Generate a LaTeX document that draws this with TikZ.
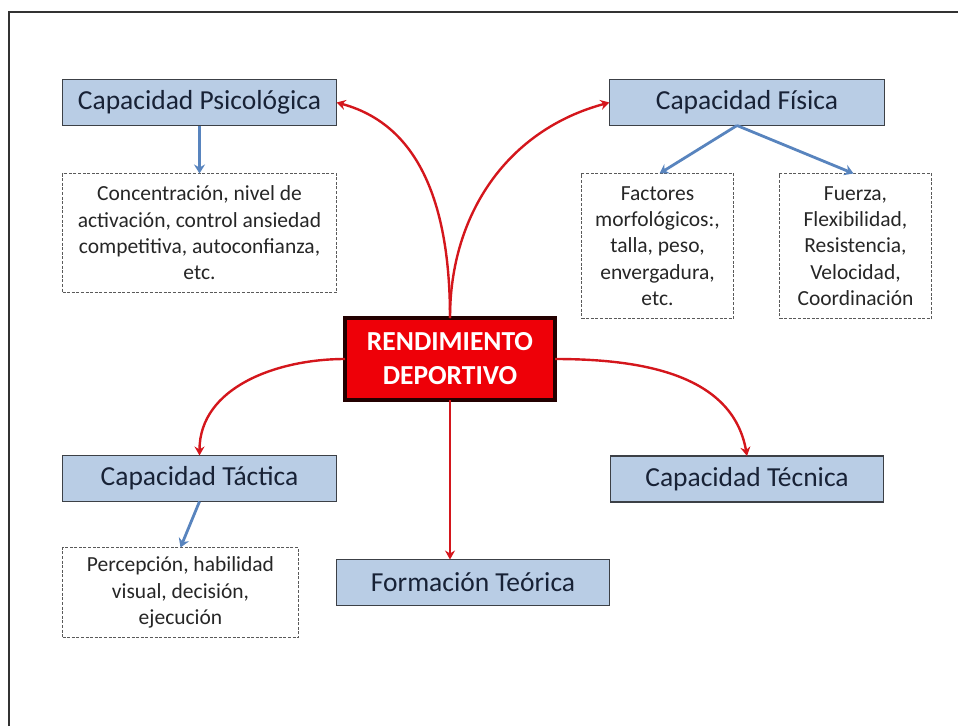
\documentclass[tikz,border=0pt]{standalone}
\usepackage{fontspec}
\setmainfont{Carlito}
\usetikzlibrary{arrows.meta}
\definecolor{boxfill}{RGB}{185,205,229}
\definecolor{boxline}{RGB}{60,64,70}
\definecolor{captext}{RGB}{24,34,54}
\definecolor{redline}{RGB}{212,22,28}
\definecolor{redfill}{RGB}{238,0,8}
\definecolor{redborder}{RGB}{35,0,0}
\definecolor{blueline}{RGB}{88,132,190}
\definecolor{dashline}{RGB}{90,90,90}
\definecolor{frameline}{RGB}{50,50,50}
\begin{document}
\begin{tikzpicture}[x=1pt,y=-1pt,
  capbox/.style={draw=boxline, fill=boxfill, line width=1.4pt, inner sep=0pt, outer sep=0pt,
    text=captext, font=\fontsize{27.5}{33}\selectfont, minimum height=46pt},
  detbox/.style={draw=dashline, dashed, dash pattern=on 3pt off 1.6pt, line width=1.2pt, inner sep=0pt, outer sep=0pt,
    align=center, text=black!85, font=\fontsize{21.5}{26.3}\selectfont},
  mainbox/.style={draw=redborder, fill=redfill, line width=4pt, inner sep=0pt, outer sep=0pt,
    align=center, text=white, font=\fontsize{27.5}{34}\selectfont\bfseries,
    minimum width=210pt, minimum height=82pt},
  redarrow/.style={draw=redline, line width=2.4pt, -{Stealth[length=9pt,width=10pt,inset=3pt]}},
  bluearrow/.style={draw=blueline, line width=2.8pt, -{Stealth[length=9pt,width=11pt,inset=3pt]}}
]
\useasboundingbox (0,0) rectangle (958,726);
\draw[frameline, line width=1.5pt] (9,726) -- (9,12) -- (958,12);

\node[capbox, minimum width=274pt] (psico) at (199.5,102.5) {Capacidad Psicológica};
\node[capbox, minimum width=275pt] (fisica) at (747,102.5) {Capacidad Física};
\node[capbox, minimum width=274pt] (tactica) at (199.5,478.5) {Capacidad Táctica};
\node[capbox, minimum width=273pt] (tecnica) at (747,479) {Capacidad Técnica};
\node[capbox, minimum width=273pt] (formacion) at (473,582.5) {Formación Teórica};

\node[mainbox] (rend) at (450,359) {RENDIMIENTO\\DEPORTIVO};

\node[detbox, minimum width=274pt, minimum height=119pt] (concent) at (199.5,233)
  {Concentración, nivel de\\activación, control ansiedad\\competitiva, autoconfianza,\\etc.};
\node[detbox, minimum width=152pt, minimum height=145pt] (factores) at (657.5,246)
  {Factores\\morfológicos:,\\talla, peso,\\envergadura,\\etc.};
\node[detbox, minimum width=152pt, minimum height=145pt] (fuerza) at (855.5,246)
  {Fuerza,\\Flexibilidad,\\Resistencia,\\Velocidad,\\Coordinación};
\node[detbox, minimum width=236pt, minimum height=90pt] (percep) at (180.5,592.5)
  {Percepción, habilidad\\visual, decisión,\\ejecución};

\draw[redarrow] (rend.north) to[out=90, in=-15] (psico.east);
\draw[redarrow] (rend.north) to[out=90, in=195] (fisica.west);
\draw[redarrow] (rend.west) to[out=180, in=90] (tactica.north);
\draw[redarrow] (rend.east) to[out=0, in=100] (tecnica.north);
\draw[redarrow] (rend.south) -- (rend.south |- formacion.north);

\draw[bluearrow] (psico.south) -- (concent.north);
\coordinate (fisout) at ([xshift=-10pt]fisica.south);
\draw[bluearrow] (fisout) -- ([xshift=2pt]factores.north);
\draw[bluearrow] (fisout) -- ([xshift=-2pt]fuerza.north);
\draw[bluearrow] (tactica.south) -- (percep.north);
\end{tikzpicture}
\end{document}
